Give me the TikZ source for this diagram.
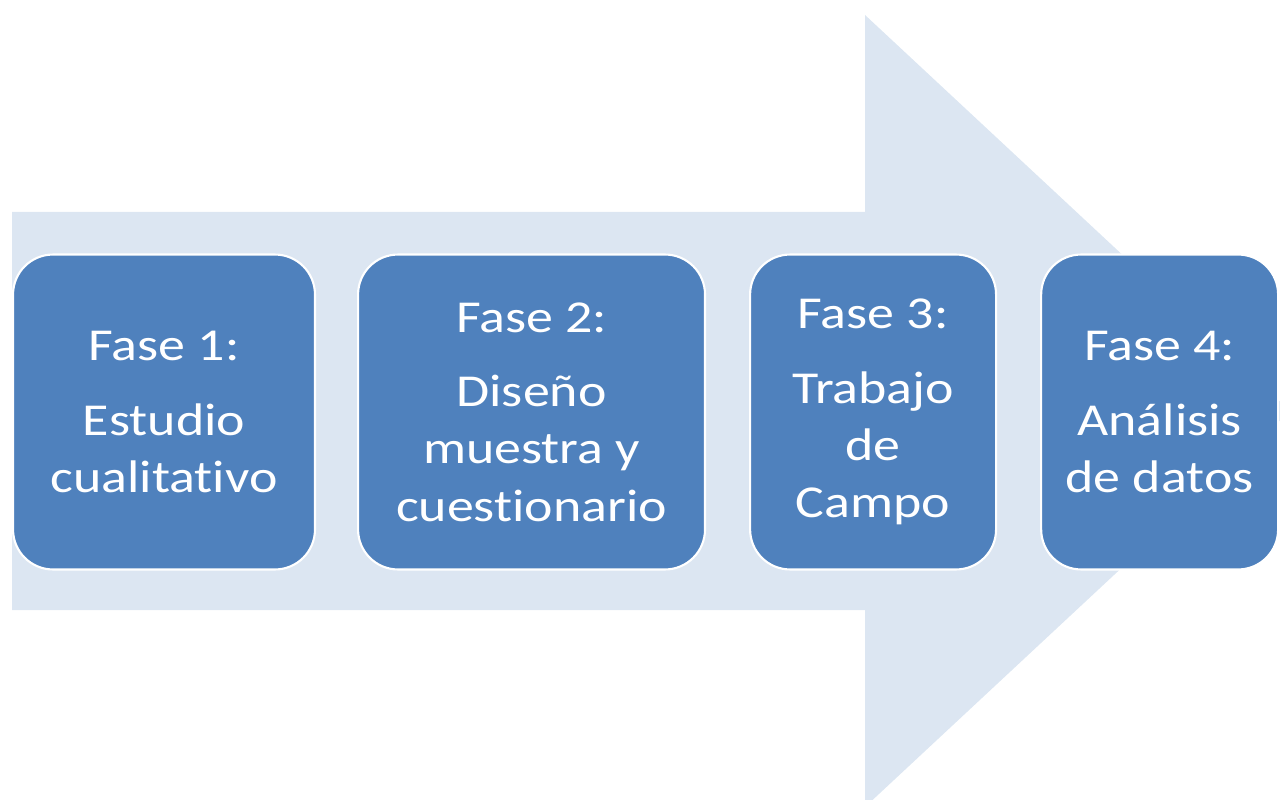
\documentclass[tikz,border=0pt]{standalone}
\usepackage{fontspec}
\setmainfont[FakeStretch=1.18, RawFeature=-liga]{Carlito}
\usetikzlibrary{positioning}
\definecolor{faseblue}{RGB}{79,129,189}
\definecolor{flechablue}{RGB}{220,230,242}
\tikzset{
  fase/.style={draw=white, line width=1.2pt, fill=faseblue, text=white,
    rounded corners=0.8cm, minimum height=6.3cm, align=center,
    inner sep=0pt, font=\fontsize{26}{32.5}\selectfont},
}
\def\Flecha{
    \fill[flechablue] (12,212) -- (865,212) -- (865,15) -- (1290,411)
      -- (865,807) -- (865,610) -- (12,610) -- cycle;
}

\begin{document}
\begin{tikzpicture}[x=0.02cm,y=-0.02cm]
    \useasboundingbox (0,0) rectangle (1280,800);
    \clip (0,0) rectangle (1280,800);
    \Flecha
    \node[fase, minimum width=6.04cm] (fase1) at (164,412)
      {Fase 1:\\[10pt] Estudio\\ cualitativo};
    \node[fase, minimum width=6.94cm, right=0.82cm of fase1] (fase2)
      {Fase 2:\\[10pt] Diseño\\ muestra y\\ cuestionario};
    \node[fase, minimum width=4.92cm, right=0.86cm of fase2] (fase3)
      {Fase 3:\\[10pt] Trabajo\\ de\\ Campo};
    \node[fase, minimum width=4.74cm, right=0.86cm of fase3] (fase4)
      {Fase 4:\\[10pt] Análisis\\ de datos};
\end{tikzpicture}
\end{document}
